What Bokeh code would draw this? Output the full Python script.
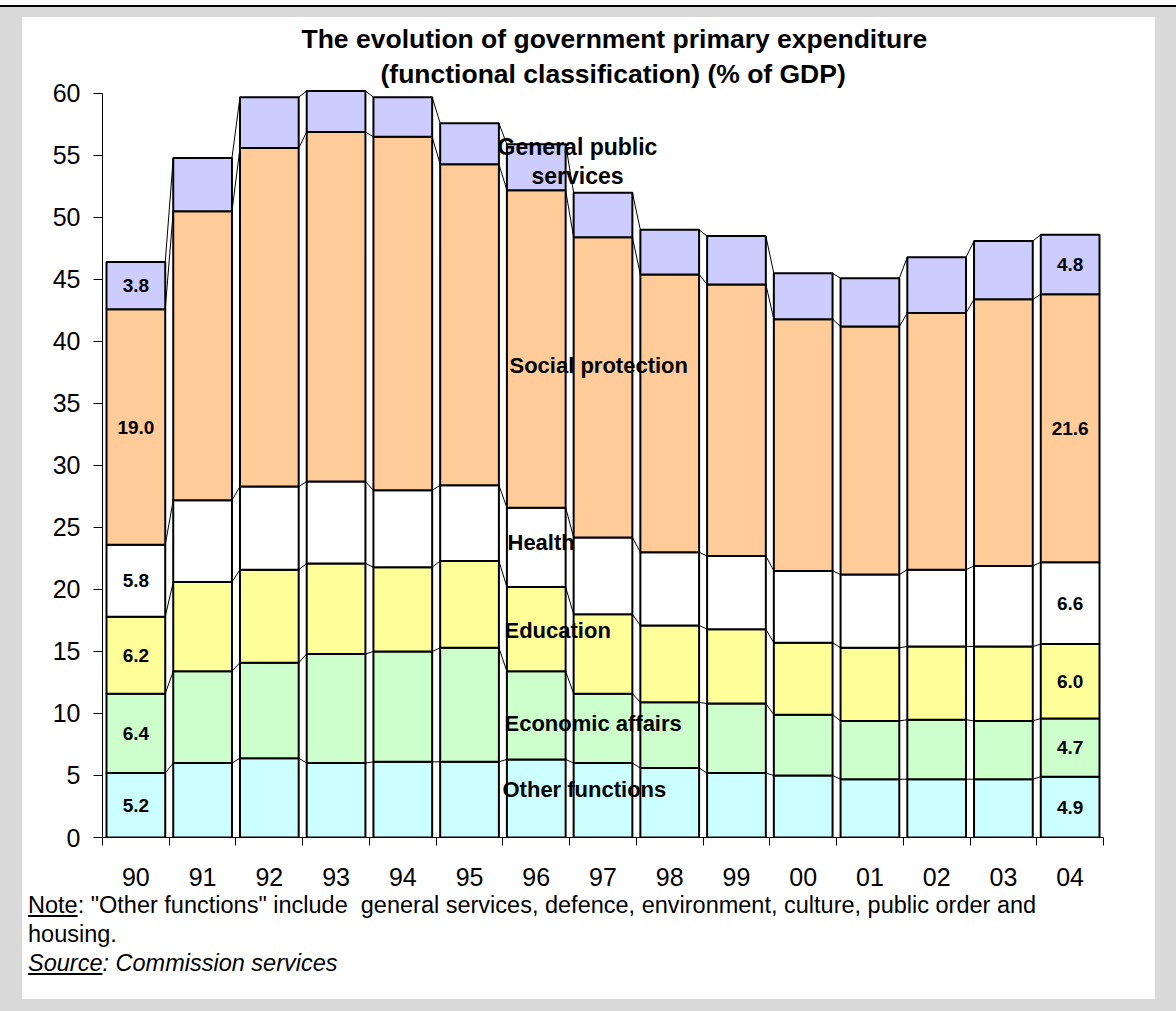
from bokeh.plotting import figure
from bokeh.models import Range1d, FixedTicker, Label, ColumnDataSource, Title, Div
from bokeh.layouts import column
from bokeh.core.properties import value
from bokeh.embed import file_html
from bokeh.resources import INLINE

# ---------------- data ----------------
years = ["90", "91", "92", "93", "94", "95", "96", "97", "98", "99", "00", "01", "02", "03", "04"]
series_names = ["Other functions", "Economic affairs", "Education", "Health",
                "Social protection", "General public services"]
other_functions = [5.2, 6.0, 6.4, 6.0, 6.1, 6.1, 6.3, 6.0, 5.6, 5.2, 5.0, 4.7, 4.7, 4.7, 4.9]
economic_affairs = [6.4, 7.4, 7.7, 8.8, 8.9, 9.2, 7.1, 5.6, 5.3, 5.6, 4.9, 4.7, 4.8, 4.7, 4.7]
education = [6.2, 7.2, 7.5, 7.3, 6.8, 7.0, 6.8, 6.4, 6.2, 6.0, 5.8, 5.9, 5.9, 6.0, 6.0]
health = [5.8, 6.6, 6.7, 6.6, 6.2, 6.1, 6.4, 6.2, 5.9, 5.9, 5.8, 5.9, 6.2, 6.5, 6.6]
social_protection = [19.0, 23.3, 27.3, 28.2, 28.5, 25.9, 25.6, 24.2, 22.4, 21.9, 20.3, 20.0, 20.7, 21.5, 21.6]
general_public = [3.8, 4.3, 4.1, 3.3, 3.2, 3.3, 3.7, 3.6, 3.6, 3.9, 3.7, 3.9, 4.5, 4.7, 4.8]
y_ticks = [0, 5, 10, 15, 20, 25, 30, 35, 40, 45, 50, 55, 60]
labelled_bars = [0, 14]   # indices of the bars whose segments carry value labels

title_lines = ["The evolution of government primary expenditure",
               "(functional classification) (% of GDP)"]
note_text = ': "Other functions" include  general services, defence, environment, culture, public order and'
source_text = ": Commission services"

# ---------------- styles / geometry (page pixels) ----------------
colors = ["#CCFFFF", "#CCFFCC", "#FFFF99", "#FFFFFF", "#FFCC99", "#CCCCFF"]
FONT = value("Liberation Sans")
GREY = "#D9D9D9"
PANEL_L, PANEL_T, PANEL_R, PANEL_B = 22, 17, 1155, 999
FL, FR, FT, FB = 102, 1103, 88, 837     # frame edges in page pixels
FIG_B = 891                              # bottom of figure canvas
YMAX = 60.4
N = len(years)
BAR_W = 0.88


def X(px):
    return (px - FL) / (FR - FL) * N


def Y(py):
    return (FB - py) / (FB - FT) * YMAX


fig_w = PANEL_R - PANEL_L
fig_h = FIG_B - PANEL_T
p = figure(width=fig_w, height=fig_h, x_range=Range1d(0, N), y_range=Range1d(0, YMAX),
           output_backend="svg", toolbar_location=None, title=None,
           min_border_left=FL - PANEL_L, min_border_right=PANEL_R - FR,
           min_border_top=FT - PANEL_T, min_border_bottom=FIG_B - FB)
p.background_fill_color = "white"
p.border_fill_color = "white"
p.outline_line_color = None
p.grid.visible = False

# ---------------- bars ----------------
all_series = [other_functions, economic_affairs, education, health, social_protection, general_public]
keys = ["s%d" % k for k in range(len(all_series))]
data = {"x": [i + 0.5 for i in range(N)]}
for k, s in zip(keys, all_series):
    data[k] = s
src = ColumnDataSource(data)
p.vbar_stack(keys, x="x", width=BAR_W, source=src, fill_color=colors,
             line_color="black", line_width=2)

# cumulative tops
cum = []
run = [0.0] * N
for s in all_series:
    run = [a + b for a, b in zip(run, s)]
    cum.append(run)

# series lines between adjacent bars
x0, y0, x1, y1 = [], [], [], []
for level in cum:
    for i in range(N - 1):
        x0.append(i + 0.5 + BAR_W / 2)
        y0.append(level[i])
        x1.append(i + 1.5 - BAR_W / 2)
        y1.append(level[i + 1])
p.segment(x0=x0, y0=y0, x1=x1, y1=y1, line_color="black", line_width=1)

# value labels on first and last bar
tx, ty, tt = [], [], []
for i in labelled_bars:
    base = 0.0
    for s in all_series:
        tx.append(i + 0.5)
        ty.append(base + s[i] / 2)
        tt.append("%.1f" % s[i])
        base += s[i]
p.text(x=tx, y=ty, text=tt, text_font=FONT, text_font_style="bold", text_font_size="19px",
       text_align="center", text_baseline="middle", text_color="black")

# ---------------- axes ----------------
xa = p.xaxis[0]
xa.ticker = FixedTicker(ticks=[i + 0.5 for i in range(N)], minor_ticks=list(range(N + 1)))
xa.major_label_overrides = {i + 0.5: years[i] for i in range(N)}
xa.major_tick_out = 0
xa.major_tick_in = 0
xa.minor_tick_out = 8
xa.minor_tick_in = 0
xa.minor_tick_line_color = "black"
xa.axis_line_color = "black"
xa.major_label_standoff = 22
xa.major_label_text_font = "Liberation Sans"
xa.major_label_text_font_size = "25px"
xa.major_label_text_color = "black"

ya = p.yaxis[0]
ya.ticker = FixedTicker(ticks=y_ticks)
ya.bounds = (0, 60)
ya.major_tick_out = 9
ya.major_tick_in = 0
ya.minor_tick_out = 0
ya.minor_tick_in = 0
ya.axis_line_color = "black"
ya.major_tick_line_color = "black"
ya.major_label_standoff = 13
ya.major_label_text_font = "Liberation Sans"
ya.major_label_text_font_size = "25px"
ya.major_label_text_color = "black"

# ---------------- title (two lines, stacked outward from the frame) ----------------
p.add_layout(Title(text=title_lines[1], align="left", offset=380 - FL, standoff=0,
                   text_font="Liberation Sans", text_font_style="bold",
                   text_font_size="26.5px", text_color="black"), "above")
p.add_layout(Title(text=title_lines[0], align="left", offset=301 - FL, standoff=5,
                   text_font="Liberation Sans", text_font_style="bold",
                   text_font_size="26.5px", text_color="black"), "above")

# ---------------- category labels ----------------
cat_labels = [
    ("General public", 577, 146, "center", "23px"),
    ("services", 577, 175, "center", "23px"),
    ("Social protection", 509, 365, "left", "22px"),
    ("Health", 507, 542, "left", "22px"),
    ("Education", 504, 630, "left", "22px"),
    ("Economic affairs", 504, 723, "left", "22px"),
    ("Other functions", 502, 789, "left", "22px"),
]
for txt, px, py, al, fs in cat_labels:
    p.add_layout(Label(x=X(px), y=Y(py), text=txt, text_font="Liberation Sans",
                       text_font_style="bold", text_font_size=fs, text_color="black",
                       text_align=al, text_baseline="middle"))

# ---------------- notes ----------------
notes_html = (
    '<div style="font-family:\'Liberation Sans\',Arial,sans-serif;font-size:23.5px;'
    'line-height:29px;color:#000;padding-left:6px;padding-top:0;white-space:pre;margin:0;">'
    '<u>Note</u>' + note_text.replace('"', '&quot;') + '<br>housing.<br>'
    '<i><u>Source</u>' + source_text + '</i></div>'
)
notes = Div(text=notes_html, width=fig_w, height=PANEL_B - FIG_B,
            styles={"background-color": "white", "margin": "0", "padding": "0"})

inner = column(p, notes, spacing=0, styles={"background-color": "white"})
page = column(inner, spacing=0,
              styles={"background-color": GREY,
                      "padding": "%dpx %dpx %dpx %dpx" % (PANEL_T - 7, 1176 - PANEL_R, 1011 - PANEL_B, PANEL_L),
                      "border-top": "2px solid black",
                      "margin-top": "5px"})

open("out.html", "w").write(file_html(page, INLINE))
